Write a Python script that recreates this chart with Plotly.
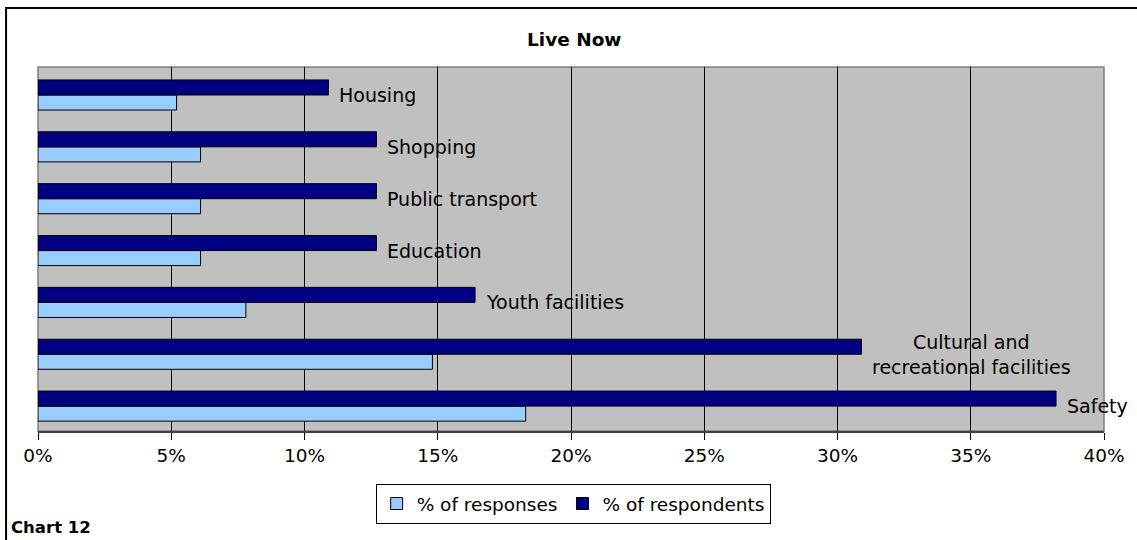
import plotly.graph_objects as go

categories = ["Housing", "Shopping", "Public transport", "Education",
              "Youth facilities", "Cultural and recreational facilities", "Safety"]
label_texts = ["Housing", "Shopping", "Public transport", "Education",
               "Youth facilities", "Cultural and<br>recreational facilities", "Safety"]
pct_responses = [5.2, 6.1, 6.1, 6.1, 7.8, 14.8, 18.3]
pct_respondents = [10.9, 12.7, 12.7, 12.7, 16.4, 30.9, 38.2]
x_ticks = [0, 5, 10, 15, 20, 25, 30, 35, 40]
x_ticklabels = [f"{v}%" for v in x_ticks]

FONT = "DejaVu Sans"
L, R, T, B = 38, 31, 67, 109
W, H = 1137, 540
pw = W - L - R
ph = H - T - B


def px_x(p):
    return (p - L) / pw


def px_y(p):
    return (H - B - p) / ph


fig = go.Figure()
fig.add_trace(go.Bar(
    y=categories, x=pct_responses, orientation="h", name="% of responses",
    marker=dict(color="#99CCFF", line=dict(color="black", width=1)),
))
fig.add_trace(go.Bar(
    y=categories, x=pct_respondents, orientation="h", name="% of respondents",
    marker=dict(color="#000080", line=dict(color="black", width=1)),
))

annotations = []
for cat, txt, v in zip(categories, label_texts, pct_respondents):
    annotations.append(dict(
        x=v, y=cat, xref="x", yref="y", text=txt, showarrow=False,
        xanchor="left", yanchor="middle", xshift=9, align="center",
        font=dict(family=FONT, size=19, color="black"),
    ))
annotations.append(dict(
    x=px_x(575), y=px_y(39), xref="paper", yref="paper", text="<b>Live Now</b>",
    showarrow=False, xanchor="center", yanchor="middle",
    font=dict(family=FONT, size=18.5, color="black"),
))
annotations.append(dict(
    x=px_x(9), y=px_y(527), xref="paper", yref="paper", text="<b>Chart 12</b>",
    showarrow=False, xanchor="left", yanchor="middle",
    font=dict(family=FONT, size=16.5, color="black"),
))

shapes = [
    # outer chart border
    dict(type="rect", xref="paper", yref="paper",
         x0=px_x(6), x1=px_x(1160), y0=px_y(8), y1=px_y(580),
         line=dict(color="black", width=2), layer="above"),
    # plot area border
    dict(type="rect", xref="paper", yref="paper", x0=0, x1=1, y0=0, y1=1,
         line=dict(color="#808080", width=1.5), layer="below"),
]

fig.update_layout(
    width=W, height=H,
    margin=dict(l=L, r=R, t=T, b=B, pad=0),
    paper_bgcolor="white", plot_bgcolor="#C0C0C0",
    barmode="group", bargap=0.42, bargroupgap=0,
    showlegend=True,
    legend=dict(orientation="h", x=0.502, xanchor="center", y=px_y(484), yanchor="top",
                bordercolor="black", borderwidth=1, bgcolor="white",
                font=dict(family=FONT, size=18.5, color="black"),
                itemwidth=30, traceorder="normal"),
    annotations=annotations,
    shapes=shapes,
    font=dict(family=FONT, size=18, color="black"),
)
fig.update_xaxes(
    range=[0, 40], tickvals=x_ticks, ticktext=x_ticklabels,
    showgrid=True, gridcolor="black", gridwidth=1,
    ticks="outside", ticklen=7, tickcolor="black", tickwidth=1,
    showline=True, linecolor="#404040", linewidth=1.5,
    zeroline=False, tickfont=dict(family=FONT, size=18.5, color="black"),
)
fig.update_yaxes(
    categoryorder="array", categoryarray=categories[::-1],
    range=[-0.48, 6.54],
    showticklabels=False, showgrid=False, ticks="", zeroline=False,
    showline=False,
)

fig.write_html(
    "out.html",
    config={"displayModeBar": False},
    post_script="document.body.style.margin='0';document.body.style.overflow='hidden';",
)
